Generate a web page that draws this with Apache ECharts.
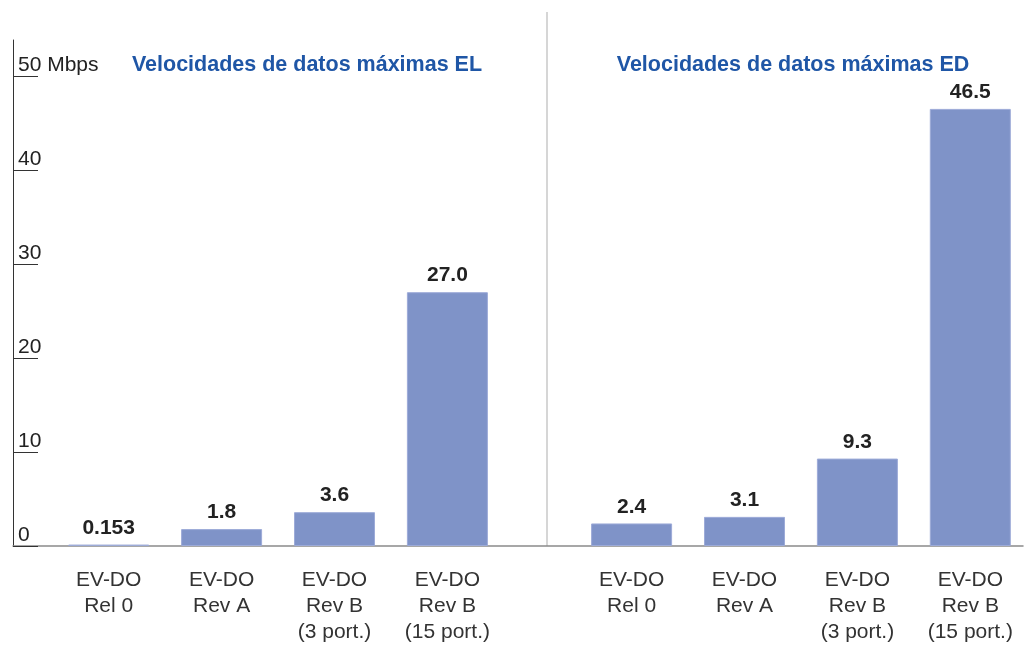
<!DOCTYPE html>
<html>
<head>
<meta charset="utf-8">
<script src="https://cdn.jsdelivr.net/npm/echarts@6/dist/echarts.min.js"></script>
<style>
html, body { margin: 0; padding: 0; background: #fff; }
#main { width: 1027px; height: 645px; }
</style>
</head>
<body>
<div id="main"></div>
<script>
// datos
var categorias = ['EV-DO\nRel 0', 'EV-DO\nRev A', 'EV-DO\nRev B\n(3 port.)', 'EV-DO\nRev B\n(15 port.)'];
var valoresEL = [0.153, 1.8, 3.6, 27.0];
var etiquetasEL = ['0.153', '1.8', '3.6', '27.0'];
var valoresED = [2.4, 3.1, 9.3, 46.5];
var etiquetasED = ['2.4', '3.1', '9.3', '46.5'];
var tituloEL = 'Velocidades de datos máximas EL';
var tituloED = 'Velocidades de datos máximas ED';

var fuente = 'Liberation Sans, Arial, Helvetica, sans-serif';
var colorBarra = '#7f93c8';

function serieBarras(idx, valores, etiquetas) {
	return {
		type: 'bar',
		xAxisIndex: idx,
		yAxisIndex: idx,
		data: valores,
		barWidth: 81,
		itemStyle: { color: colorBarra, borderColor: '#9dabd8', borderWidth: 1 },
		label: {
			show: true,
			position: 'top',
			distance: 6,
			fontFamily: fuente,
			fontSize: 21,
			fontWeight: 'bold',
			color: '#222',
			formatter: function (p) { return etiquetas[p.dataIndex]; }
		}
	};
}

function ejeCategorias(idx) {
	return {
		type: 'category',
		gridIndex: idx,
		data: categorias,
		axisLine: { show: false },
		axisTick: { show: false },
		axisLabel: {
			interval: 0,
			margin: 21,
			fontFamily: fuente,
			fontSize: 21,
			lineHeight: 26,
			color: '#333'
		}
	};
}

var myChart = echarts.init(document.getElementById('main'));
var option = {
	backgroundColor: '#fff',
	animation: false,
	title: [{
		text: tituloEL,
		left: 302,
		top: 49,
		textAlign: 'center',
		textStyle: { fontFamily: fuente, fontSize: 21.5, fontWeight: 'bold', color: '#1f56a6' }
	}, {
		text: tituloED,
		left: 788,
		top: 49,
		textAlign: 'center',
		textStyle: { fontFamily: fuente, fontSize: 21.5, fontWeight: 'bold', color: '#1f56a6' }
	}],
	grid: [
		{ left: 13, right: 4, top: 40, bottom: 99 },           // marco: eje y + linea base
		{ left: 52.25, width: 451.6, top: 76, bottom: 99 },   // EL
		{ left: 575.15, width: 451.6, top: 76, bottom: 99 }   // ED
	],
	xAxis: [{
		type: 'value',
		gridIndex: 0,
		min: 0, max: 1,
		axisLine: { show: true, onZero: false, lineStyle: { color: '#8a8a8a', width: 1.5 } },
		axisTick: { show: false },
		axisLabel: { show: false },
		splitLine: { show: false }
	}, ejeCategorias(1), ejeCategorias(2)],
	yAxis: [{
		type: 'value',
		gridIndex: 0,
		min: 0, max: 1,
		axisLine: { show: true, onZero: false, lineStyle: { color: '#333', width: 1 } },
		axisTick: { show: false },
		axisLabel: { show: false },
		splitLine: { show: false }
	}, {
		type: 'value',
		gridIndex: 1,
		min: 0, max: 50, interval: 10,
		offset: 39.25,
		axisLine: { show: false },
		axisTick: { show: true, inside: true, length: 25, lineStyle: { color: '#333', width: 1 } },
		axisLabel: {
			inside: true,
			margin: 5,
			align: 'left',
			verticalAlign: 'bottom',
			fontFamily: fuente,
			fontSize: 21,
			color: '#222',
			formatter: function (v) { return v === 50 ? '50 Mbps' : String(v); }
		},
		splitLine: { show: false }
	}, {
		type: 'value',
		gridIndex: 2,
		min: 0, max: 50, interval: 10,
		show: false
	}],
	graphic: [{
		type: 'line',
		shape: { x1: 547, y1: 12, x2: 547, y2: 546 },
		style: { stroke: '#c8c8c8', lineWidth: 1.5 },
		z: 0
	}],
	series: [
		serieBarras(1, valoresEL, etiquetasEL),
		serieBarras(2, valoresED, etiquetasED)
	]
};
myChart.setOption(option, true);
</script>
</body>
</html>
